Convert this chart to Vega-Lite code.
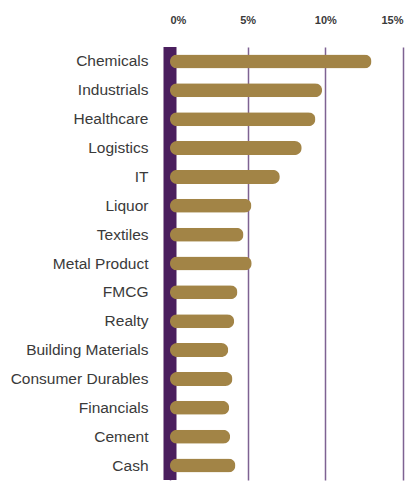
{
  "$schema": "https://vega.github.io/schema/vega-lite/v6.json",
  "width": 233,
  "height": 433,
  "padding": {"left": 10, "top": 14, "right": 5, "bottom": 5},
  "config": {"view": {"stroke": null}},
  "data": {
    "values": [
      {"sector": "Chemicals", "weight": 12.97},
      {"sector": "Industrials", "weight": 9.79},
      {"sector": "Healthcare", "weight": 9.36},
      {"sector": "Logistics", "weight": 8.48},
      {"sector": "IT", "weight": 7.07},
      {"sector": "Liquor", "weight": 5.24},
      {"sector": "Textiles", "weight": 4.73},
      {"sector": "Metal Product", "weight": 5.26},
      {"sector": "FMCG", "weight": 4.34},
      {"sector": "Realty", "weight": 4.13},
      {"sector": "Building Materials", "weight": 3.75},
      {"sector": "Consumer Durables", "weight": 4.02},
      {"sector": "Financials", "weight": 3.81},
      {"sector": "Cement", "weight": 3.87},
      {"sector": "Cash", "weight": 4.21}
    ]
  },
  "layer": [
    {
      "data": {"values": [{}]},
      "mark": {"type": "rule", "color": "#4b1f5e", "strokeWidth": 13},
      "encoding": {"x": {"datum": 0, "type": "quantitative"}}
    },
    {
      "mark": {"type": "bar", "color": "#a28446", "size": 14, "cornerRadius": 7},
      "encoding": {
        "y": {
          "field": "sector",
          "type": "nominal",
          "sort": null,
          "scale": {"paddingInner": 0, "paddingOuter": 0},
          "axis": {
            "title": null,
            "domain": false,
            "ticks": false,
            "labelFontSize": 15.5,
            "labelFont": "Liberation Sans",
            "labelColor": "#3a3a3a",
            "labelPadding": 22
          }
        },
        "x": {
          "field": "weight",
          "type": "quantitative",
          "scale": {"domain": [0, 15], "nice": false},
          "axis": {
            "orient": "top",
            "title": null,
            "domain": false,
            "ticks": false,
            "values": [0, 5, 10, 15],
            "labelExpr": "datum.value + '%'",
            "labelFont": "Liberation Sans",
            "labelFontWeight": "bold",
            "labelFontSize": 11,
            "labelColor": "#3a3a3a",
            "labelPadding": 22,
            "grid": true,
            "gridColor": "#7e6292",
            "gridWidth": 1.5,
            "gridOpacity": 1
          }
        }
      }
    }
  ]
}
